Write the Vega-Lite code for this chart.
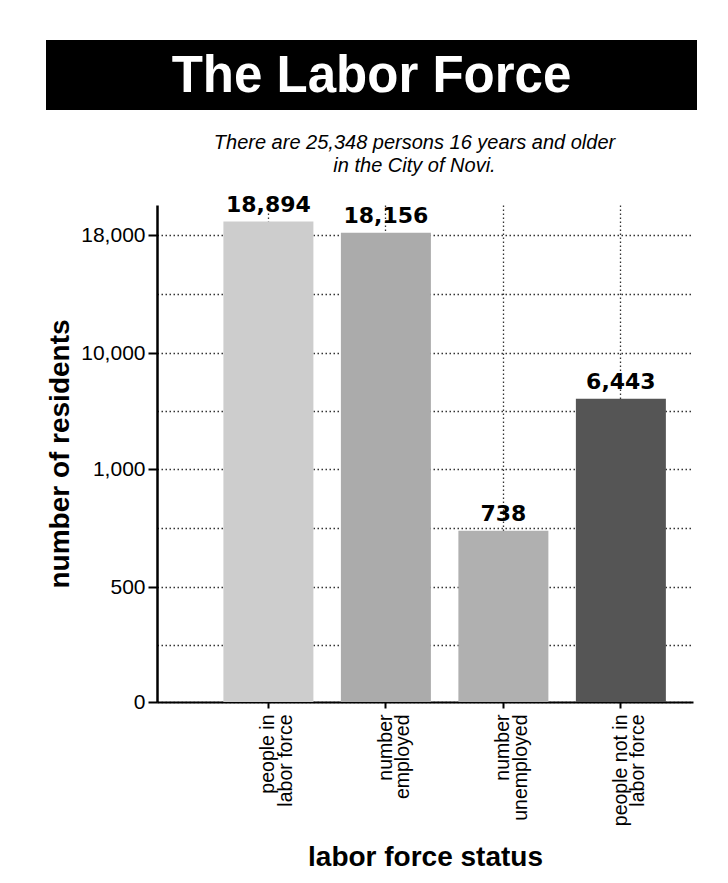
{
  "$schema": "https://vega.github.io/schema/vega-lite/v6.json",
  "background": "white",
  "padding": {"left": 46, "top": 40, "right": 0, "bottom": 0},
  "spacing": 22,
  "config": {"view": {"stroke": null}, "font": "Liberation Sans"},
  "vconcat": [
    {
      "width": 651,
      "height": 70,
      "view": {"fill": "black", "stroke": null},
      "data": {"values": [{"banner": "The Labor Force"}]},
      "mark": {"type": "text", "font": "Liberation Sans", "fontWeight": "bold", "fontSize": 51, "color": "white", "baseline": "middle", "dy": 2},
      "encoding": {"text": {"field": "banner", "type": "nominal"}}
    },
    {
      "width": 647,
      "height": 497,
      "title": {
        "text": ["There are 25,348 persons 16 years and older", "in the City of Novi."],
        "font": "Liberation Sans",
        "fontSize": 20,
        "fontStyle": "italic",
        "fontWeight": "normal",
        "lineHeight": 23,
        "color": "black",
        "anchor": "middle",
        "frame": "group",
        "dx": 45,
        "offset": 18
      },
      "data": {
        "values": [
          {"status": "people in labor force", "residents": 18894},
          {"status": "number employed", "residents": 18156},
          {"status": "number unemployed", "residents": 738},
          {"status": "people not in labor force", "residents": 6443}
        ]
      },
      "encoding": {
        "x": {
          "field": "status",
          "type": "nominal",
          "sort": null,
          "scale": {"range": [111, 647], "paddingInner": 0.234, "paddingOuter": 0.398, "align": 0.71},
          "axis": {
            "title": "labor force status",
            "titleFont": "Liberation Sans",
            "titleFontSize": 28,
            "titleFontWeight": "bold",
            "titleColor": "black",
            "titlePadding": 18,
            "labelAngle": 270,
            "labelAlign": "right",
            "labelBaseline": "middle",
            "labelFont": "Liberation Sans",
            "labelFontSize": 19.5,
            "labelLineHeight": 17.5,
            "labelColor": "black",
            "labelPadding": 6,
            "labelExpr": "datum.value == 'people in labor force' ? ['people in', 'labor force'] : datum.value == 'number employed' ? ['number', 'employed'] : datum.value == 'number unemployed' ? ['number', 'unemployed'] : ['people not in', 'labor force']",
            "domainColor": "black",
            "domainWidth": 2,
            "tickColor": "black",
            "tickWidth": 2,
            "tickSize": 6,
            "grid": true,
            "gridColor": "#333333",
            "gridDash": [1.5, 2.5],
            "gridWidth": 1.3
          }
        },
        "y": {
          "field": "residents",
          "type": "quantitative",
          "scale": {
            "type": "linear",
            "domain": [0, 500, 1000, 10000, 18000, 20000],
            "range": [497, 382, 264, 148, 30, 0],
            "nice": false,
            "zero": false
          },
          "axis": {
            "offset": -111,
            "title": "number of residents",
            "titleFont": "Liberation Sans",
            "titleFontSize": 28,
            "titleFontWeight": "bold",
            "titleColor": "black",
            "titlePadding": 6,
            "values": [0, 250, 500, 750, 1000, 5500, 10000, 14000, 18000],
            "labelExpr": "indexof([0, 500, 1000, 10000, 18000], datum.value) >= 0 ? format(datum.value, ',') : ''",
            "labelFont": "Liberation Sans",
            "labelFontSize": 21,
            "labelColor": "black",
            "labelPadding": 3,
            "domainColor": "black",
            "domainWidth": 2.5,
            "tickColor": "black",
            "tickWidth": 2,
            "tickSize": 9,
            "tickOpacity": {"condition": {"test": "indexof([0, 500, 1000, 10000, 18000], datum.value) >= 0", "value": 1}, "value": 0},
            "grid": true,
            "gridColor": "#333333",
            "gridDash": [1.5, 2.5],
            "gridWidth": 1.3
          }
        }
      },
      "layer": [
        {
          "mark": {"type": "bar"},
          "encoding": {
            "color": {
              "field": "status",
              "type": "nominal",
              "sort": null,
              "legend": null,
              "scale": {
                "domain": ["people in labor force", "number employed", "number unemployed", "people not in labor force"],
                "range": ["#cdcdcd", "#ababab", "#b0b0b0", "#555555"]
              }
            }
          }
        },
        {
          "mark": {"type": "text", "font": "DejaVu Sans", "fontWeight": "bold", "fontSize": 22, "baseline": "bottom", "dy": -5, "color": "black"},
          "encoding": {"text": {"field": "residents", "type": "quantitative", "format": ","}}
        }
      ]
    }
  ]
}
